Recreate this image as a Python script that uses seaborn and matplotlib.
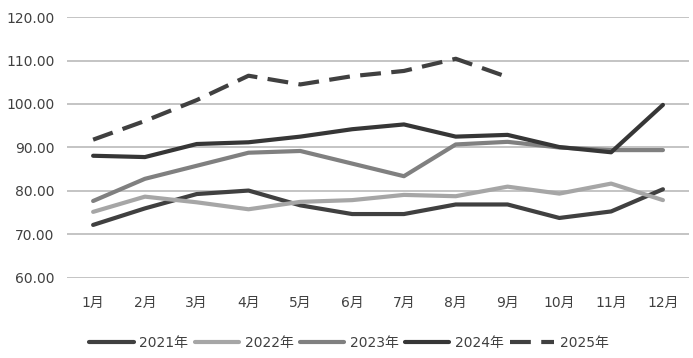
import numpy as np
import pandas as pd
import matplotlib
matplotlib.use("Agg")
import matplotlib.pyplot as plt
import seaborn as sns

months = [f"{i}月" for i in range(1, 13)]
years = ["2021年", "2022年", "2023年", "2024年", "2025年"]

v2021 = [72.2, 76.0, 79.3, 80.1, 76.7, 74.7, 74.7, 76.9, 76.9, 73.8, 75.3, 80.4]
v2022 = [75.2, 78.7, 77.4, 75.8, 77.5, 77.9, 79.1, 78.8, 81.0, 79.4, 81.7, 77.9]
v2023 = [77.7, 82.8, 85.8, 88.8, 89.2, 86.3, 83.4, 90.7, 91.3, 90.0, 89.4, 89.4]
v2024 = [88.1, 87.8, 90.8, 91.2, 92.5, 94.2, 95.3, 92.5, 92.9, 90.1, 88.9, 99.8]
v2025 = [91.8, 96.1, 100.9, 106.5, 104.5, 106.4, 107.6, 110.4, 106.2, np.nan, np.nan, np.nan]

series = dict(zip(years, [v2021, v2022, v2023, v2024, v2025]))
colors = {"2021年": "#404040", "2022年": "#a6a6a6", "2023年": "#808080",
          "2024年": "#363636", "2025年": "#404040"}

sns.set_style("white")
plt.rcParams["font.family"] = ["DejaVu Sans", "Noto Sans CJK SC"]

fig = plt.figure(figsize=(6.93, 3.58), dpi=100)
ax = fig.add_axes([0.097, 0.2235, 0.897, 0.729])

for name, vals in series.items():
    df = pd.DataFrame({"month": np.arange(12), "value": vals}).dropna()
    sns.lineplot(data=df, x="month", y="value", ax=ax, color=colors[name],
                 linewidth=3, label=name)
    if name == "2025年":
        ax.lines[-1].set_dashes((5, 2.5))

ax.set_xlim(-0.5, 11.5)
ax.set_ylim(60, 120)
ax.set_yticks(np.arange(60, 121, 10))
ax.set_yticklabels([f"{v:.2f}" for v in np.arange(60, 121, 10)])
ax.set_xticks(np.arange(12))
ax.set_xticklabels(months)
ax.set_xlabel("")
ax.set_ylabel("")
ax.grid(axis="y", color="#bfbfbf", linewidth=1.3)
ax.set_axisbelow(True)
for s in ax.spines.values():
    s.set_visible(False)
ax.tick_params(axis="both", length=0, labelsize=10, labelcolor="#404040")
ax.tick_params(axis="x", pad=13)
ax.tick_params(axis="y", pad=9)

handles, labels = ax.get_legend_handles_labels()
ax.get_legend().remove()
fig.legend(handles, labels, loc="center", bbox_to_anchor=(349 / 693, 15 / 358),
           ncol=5, frameon=False, fontsize=10, handlelength=3.2,
           handletextpad=0.4, columnspacing=0.45, labelcolor="#404040")

fig.savefig("out.png", dpi=100)
